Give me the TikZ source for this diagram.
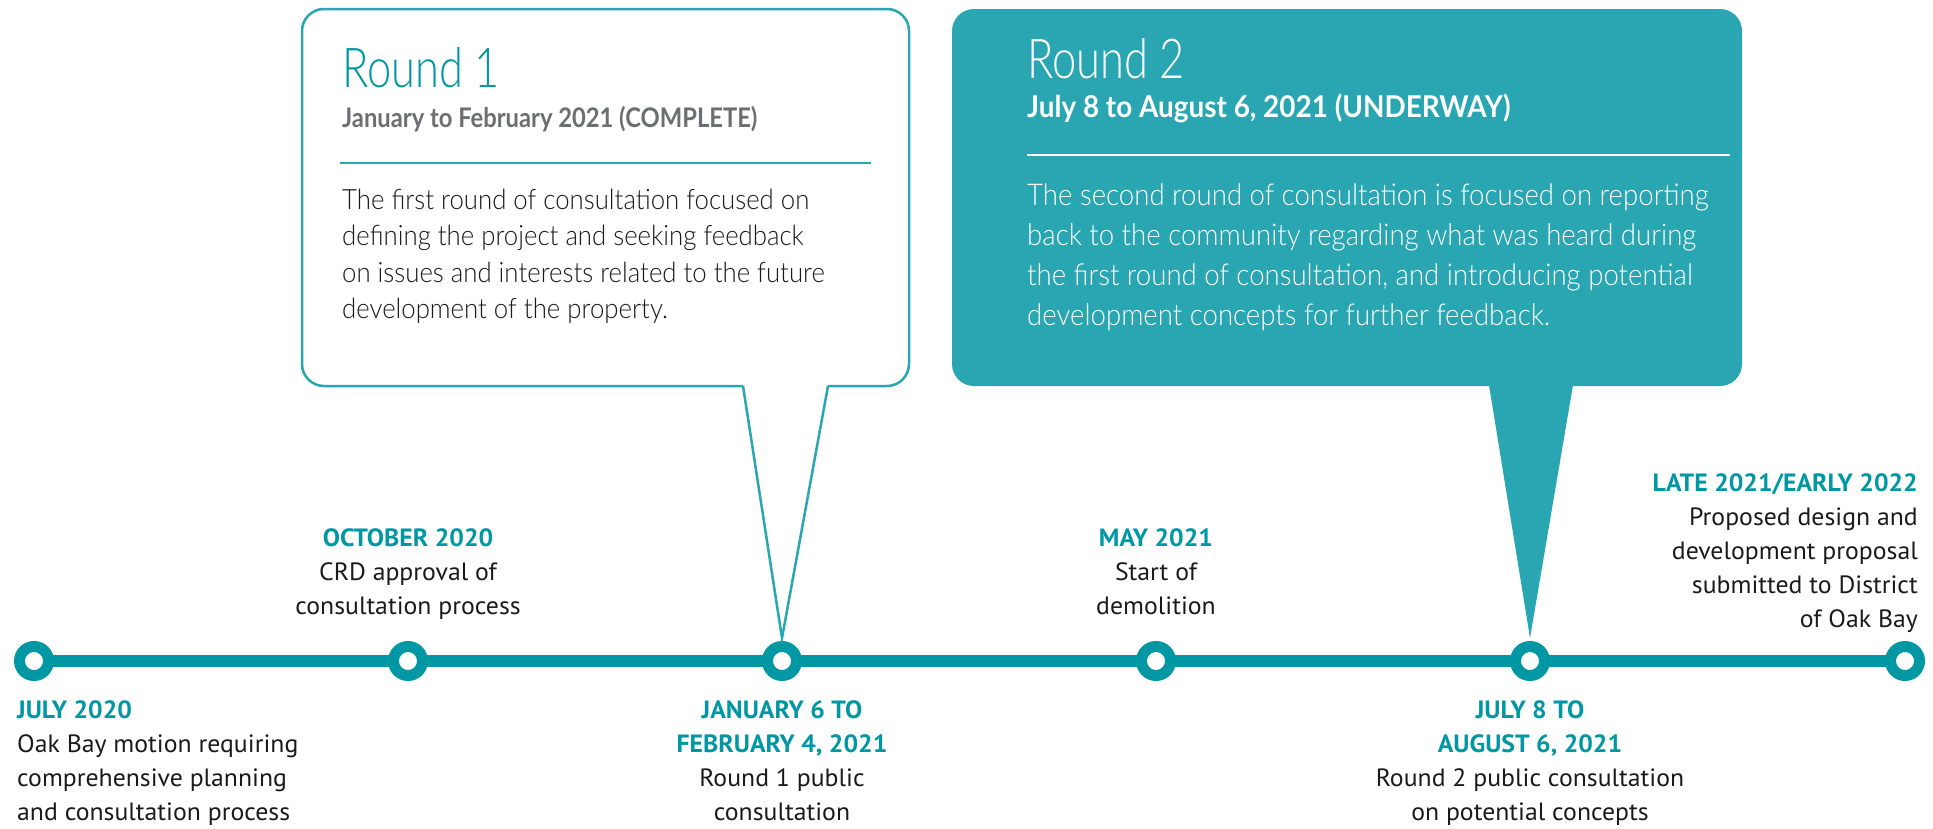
\documentclass[tikz,border=0pt]{standalone}
\usepackage{fontspec}
\setmainfont{PT Sans}[FakeStretch=1.03]
\newfontfamily\lightface[FakeStretch=0.79]{Lato Light}
\newfontfamily\textface[FakeStretch=0.92]{Lato Light}
\newfontfamily\heavyface[FakeStretch=0.88]{Lato Bold}
\newfontfamily\heavywide[FakeStretch=0.93]{Lato Bold}
\usetikzlibrary{calc}
\definecolor{tline}{RGB}{0,151,164}
\definecolor{tbox}{RGB}{41,166,177}
\definecolor{subgray}{RGB}{109,110,113}
\definecolor{ink}{RGB}{26,26,26}
\newcommand{\when}[1]{{\bfseries\color{tline}#1}}
\tikzset{
  stop/.style={circle,draw=tline,fill=white,line width=11pt,minimum size=29pt,inner sep=0pt},
  track/.style={draw=tline,line width=12pt},
  note/.style={inner sep=0pt,font=\fontsize{25}{34}\selectfont,text=ink},
  boxone/.style={draw=tbox,fill=white,line width=2.5pt,rounded corners=22pt,inner sep=0pt,outer sep=0pt},
  boxtwo/.style={fill=tbox,rounded corners=22pt,inner sep=0pt,outer sep=0pt},
  head/.style={inner sep=0pt,anchor=base west,font=\lightface\fontsize{55}{60}\selectfont},
  sub/.style={inner sep=0pt,anchor=base west},
  body/.style={inner sep=0pt,anchor=base west,align=left},
}
\begin{document}
\begin{tikzpicture}[x=1pt,y=-1pt]
\useasboundingbox (0,0) rectangle (1933,828);
% Ligne du temps
\foreach \i/\x in {1/34,2/408,3/782,4/1156,5/1530,6/1905}
  \coordinate (p\i) at (\x,661);
\draw[track] (p1) -- (p6);
\foreach \i in {1,...,6}
  \node[stop] (t\i) at (p\i) {};
% Jalons (ancre = ligne du bas)
\node[note,anchor=base west,align=left] (l1) at ($(t1)+(-17,159)$) {\when{JULY 2020}\\Oak Bay motion requiring\\comprehensive planning\\and consultation process};
\node[note,anchor=base,align=center] (l2) at ($(t2)+(0,-47)$) {\when{OCTOBER 2020}\\CRD approval of\\consultation process};
\node[note,anchor=base,align=center] (l3) at ($(t3)+(0,159)$) {\when{JANUARY 6 TO}\\\when{FEBRUARY 4, 2021}\\Round 1 public\\consultation};
\node[note,anchor=base,align=center] (l4) at ($(t4)+(0,-47)$) {\when{MAY 2021}\\Start of\\demolition};
\node[note,anchor=base,align=center] (l5) at ($(t5)+(0,159)$) {\when{JULY 8 TO}\\\when{AUGUST 6, 2021}\\Round 2 public consultation\\on potential concepts};
\node[note,anchor=base east,align=right] (l6) at ($(t6)+(13,-34)$) {\when{LATE 2021/EARLY 2022}\\Proposed design and\\development proposal\\submitted to District\\of Oak Bay};
% Premier tour
\node[boxone,minimum width=607pt,minimum height=377pt,anchor=north west] (round1) at (302,9) {};
\coordinate (a1) at ($(round1.south west)+(441,0)$);
\coordinate (b1) at ($(round1.south west)+(526,0)$);
\coordinate (c1) at ($(t3.north)+(0,-3)$);
\fill[white] ($(a1)+(0,-2)$) -- (c1) -- ($(b1)+(0,-2)$) -- cycle;
\draw[tbox,line width=2.5pt] (a1) -- (c1) -- (b1);
\node[head,text=tline] (r1head) at (342,87) {Round 1};
\node[sub,text=subgray,font=\heavyface\fontsize{27}{32}\selectfont] (r1sub) at (342,127) {January to February 2021 (COMPLETE)};
\draw[tbox,line width=1.5pt] (340,163) -- (871,163);
\node[body,text=ink,font=\textface\fontsize{28}{36.5}\selectfont] (r1body) at (342,318.5) {The first round of consultation focused on\\defining the project and seeking feedback\\on issues and interests related to the future\\development of the property.};
% Second tour
\node[boxtwo,minimum width=790pt,minimum height=377pt,anchor=north west] (round2) at (952,9) {};
\coordinate (a2) at ($(round2.south west)+(537,-1)$);
\coordinate (b2) at ($(round2.south west)+(621,-1)$);
\coordinate (c2) at ($(t5.north)+(0,-3)$);
\fill[tbox] (a2) -- (c2) -- (b2) -- cycle;
\node[head,text=white] (r2head) at (1027,78) {Round 2};
\node[sub,text=white,font=\heavywide\fontsize{30}{34}\selectfont] (r2sub) at (1027,117) {July 8 to August 6, 2021 (UNDERWAY)};
\draw[white,line width=2.5pt] (1027,155) -- (1730,155);
\node[body,text=white,font=\textface\fontsize{30}{40}\selectfont] (r2body) at (1027,325) {The second round of consultation is focused on reporting\\back to the community regarding what was heard during\\the first round of consultation, and introducing potential\\development concepts for further feedback.};
\end{tikzpicture}
\end{document}
